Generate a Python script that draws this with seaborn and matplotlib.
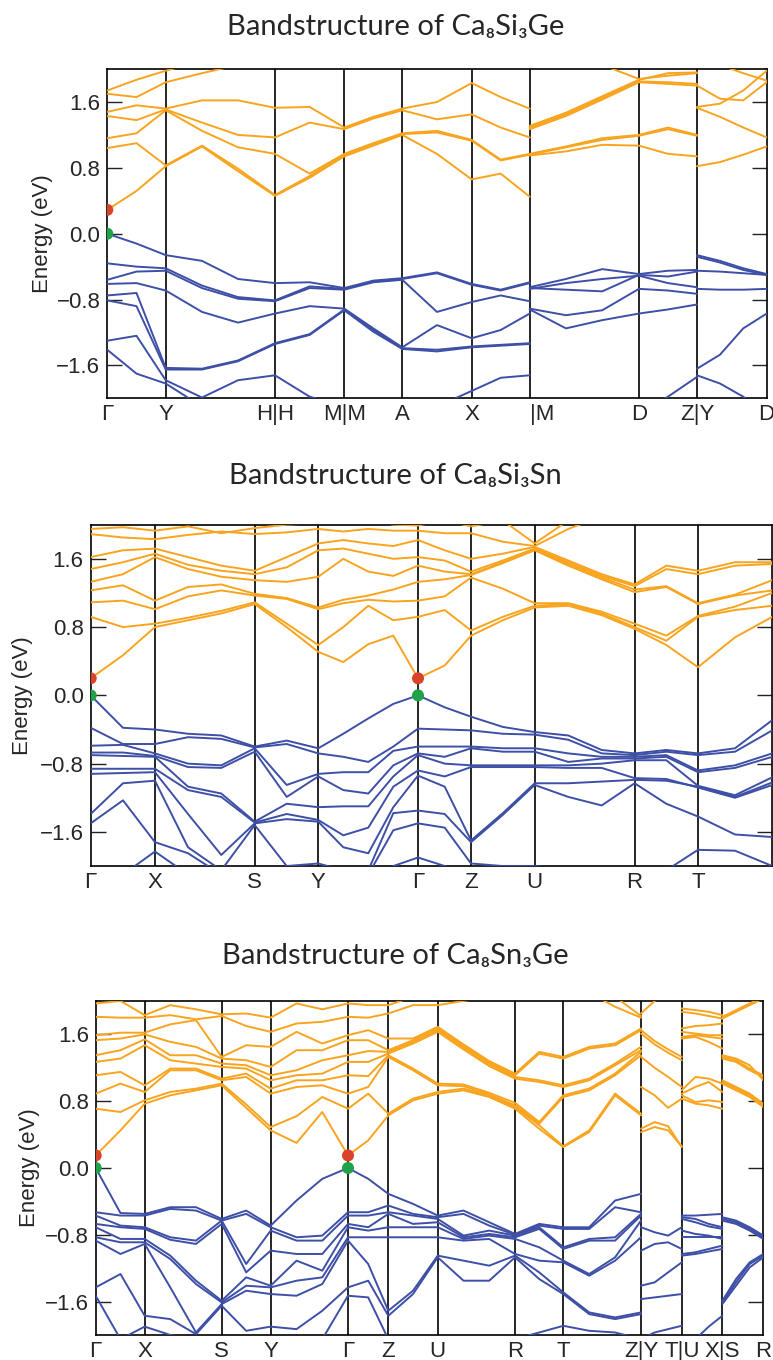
import numpy as np
import pandas as pd
import matplotlib
matplotlib.use("Agg")
import matplotlib.pyplot as plt
import seaborn as sns

sns.set_theme(style="white")
plt.rcParams['font.family'] = ['Liberation Sans', 'DejaVu Sans']

ORANGE = "#F8A41E"
BLUE = "#3D4FA6"
RED = "#D8432A"
GREEN = "#1FA24A"

y_ticks = [-1.6, -0.8, 0.0, 0.8, 1.6]
y_ticklabels = ["\u22121.6", "\u22120.8", "0.0", "0.8", "1.6"]

# ======================= Panel 1 : Ca8Si3Ge =======================
p1_title = "Bandstructure of Ca\u2088Si\u2083Ge"
p1_ticks = [0.0, 0.0886, 0.2543, 0.3594, 0.4474, 0.5526, 0.6406, 0.8063, 0.8943, 1.0]
p1_labels = ["\u0393", "Y", "H|H", "M|M", "A", "X", "|M", "D", "Z|Y", "D"]

# path A : G-Y-H-M-A-X-|M
p1_kA = [0.0, 0.0443, 0.0886, 0.1436, 0.1982, 0.2543, 0.3069, 0.3594,
         0.4034, 0.4474, 0.5000, 0.5526, 0.5966, 0.6406]
p1_cbA = [
    [0.29, 0.52, 0.82, 1.06, 0.76, 0.46, 0.68, 0.94, 1.07, 1.20, 0.97, 0.66, 0.73, 0.45],
    [1.04, 1.10, 0.83, 1.07, 0.79, 0.47, 0.70, 0.96, 1.09, 1.21, 1.23, 1.13, 0.89, 0.96],
    [1.16, 1.22, 1.50, 1.25, 1.05, 0.97, 0.73, 0.97, 1.10, 1.22, 1.25, 1.14, 0.90, 0.97],
    [1.43, 1.38, 1.51, 1.35, 1.20, 1.17, 1.35, 1.27, 1.40, 1.50, 1.39, 1.45, 1.29, 1.17],
    [1.48, 1.56, 1.52, 1.62, 1.62, 1.53, 1.54, 1.29, 1.42, 1.52, 1.60, 1.83, 1.66, 1.52],
    [1.70, 1.66, 1.84, 1.95, 2.05, 2.05, 2.10, 2.10, 2.10, 2.10, 2.10, 2.10, 2.10, 2.10],
    [1.74, 1.87, 1.98, 2.10, 2.20, 2.20, 2.20, 2.20, 2.20, 2.20, 2.20, 2.20, 2.20, 2.20],
]
# valence energies listed per k column
p1_vbA_cols = [
    [0.00, -0.36, -0.56, -0.61, -0.75, -0.81, -1.30, -1.41],
    [-0.12, -0.40, -0.46, -0.60, -0.72, -0.88, -1.24, -1.70],
    [-0.26, -0.42, -0.45, -0.69, -1.63, -1.65, -1.78, -1.82],
    [-0.33, -0.63, -0.66, -0.95, -1.64, -1.65, -1.99, -2.10],
    [-0.55, -0.77, -0.79, -1.08, -1.54, -1.55, -1.78, -2.10],
    [-0.60, -0.81, -0.82, -0.97, -1.33, -1.34, -1.72, -2.10],
    [-0.59, -0.64, -0.66, -0.88, -1.22, -1.23, -1.98, -2.10],
    [-0.66, -0.67, -0.68, -0.91, -0.92, -0.93, -2.10, -2.20],
    [-0.57, -0.58, -0.59, -1.15, -1.17, -1.19, -2.10, -2.20],
    [-0.54, -0.55, -0.56, -1.38, -1.39, -1.40, -2.10, -2.20],
    [-0.47, -0.48, -0.95, -1.11, -1.41, -1.43, -2.10, -2.20],
    [-0.61, -0.62, -0.83, -1.27, -1.37, -1.38, -1.91, -2.10],
    [-0.68, -0.69, -0.75, -1.17, -1.35, -1.36, -1.75, -2.10],
    [-0.59, -0.60, -0.82, -0.97, -1.33, -1.34, -1.72, -2.10],
]
# path B : |M-D-Z
p1_kB = [0.6406, 0.6956, 0.7507, 0.8063, 0.8503, 0.8943]
p1_cbB = [
    [0.95, 1.00, 1.08, 1.07, 0.97, 0.94],
    [0.96, 1.05, 1.14, 1.19, 1.27, 1.19],
    [0.97, 1.06, 1.16, 1.20, 1.29, 1.20],
    [1.27, 1.43, 1.63, 1.84, 1.82, 1.80],
    [1.29, 1.45, 1.65, 1.85, 1.84, 1.82],
    [1.31, 1.47, 1.67, 1.87, 1.95, 1.96],
    [2.20, 2.20, 2.05, 1.88, 1.92, 1.95],
]
p1_vbB = [
    [-0.65, -0.55, -0.43, -0.49, -0.45, -0.44],
    [-0.66, -0.68, -0.70, -0.50, -0.52, -0.46],
    [-0.67, -0.60, -0.55, -0.51, -0.60, -0.65],
    [-0.91, -0.99, -0.93, -0.67, -0.69, -0.73],
    [-0.92, -1.15, -1.05, -0.97, -0.92, -0.86],
    [-2.30, -2.30, -2.30, -2.20, -1.98, -1.74],
]
# path C : Y-D
p1_kC = [0.8943, 0.9292, 0.9645, 1.0]
p1_cbC = [
    [0.82, 0.87, 0.96, 1.06],
    [1.53, 1.42, 1.29, 1.17],
    [1.54, 1.58, 1.74, 1.98],
    [1.80, 1.64, 1.62, 1.84],
    [2.10, 2.05, 1.95, 1.86],
]
p1_vbC = [
    [-0.26, -0.33, -0.42, -0.49],
    [-0.28, -0.35, -0.44, -0.50],
    [-0.45, -0.46, -0.48, -0.50],
    [-0.67, -0.68, -0.68, -0.67],
    [-1.64, -1.47, -1.15, -0.97],
    [-1.72, -1.82, -1.98, -2.20],
]
p1_ext_k = [0.0]
p1_cbm = [0.29]
p1_vbm = [0.0]

# ======================= Panel 2 : Ca8Si3Sn =======================
p2_title = "Bandstructure of Ca\u2088Si\u2083Sn"
p2_ticks = [0.0, 0.0943, 0.2406, 0.3339, 0.4802, 0.558, 0.6514, 0.798, 0.891]
p2_labels = ["\u0393", "X", "S", "Y", "\u0393", "Z", "U", "R", "T"]
p2_k = [0.0, 0.0474, 0.0943, 0.1428, 0.1916, 0.2406, 0.2876, 0.3339, 0.3706, 0.4073,
        0.4440, 0.4802, 0.5194, 0.558, 0.6047, 0.6514, 0.7007, 0.7497, 0.798, 0.8445,
        0.891, 0.9453, 1.0]
p2_cb = [
    [0.20, 0.47, 0.80, 0.88, 0.96, 1.07, 0.80, 0.51, 0.39, 0.60, 0.70, 0.20, 0.35, 0.70, 0.88, 1.03, 1.05, 0.94, 0.78, 0.59, 0.33, 0.68, 0.92],
    [0.92, 0.80, 0.84, 0.91, 0.99, 1.09, 0.84, 0.59, 0.80, 1.05, 0.88, 0.92, 1.00, 0.76, 0.92, 1.05, 1.07, 0.96, 0.80, 0.64, 0.92, 1.00, 1.05],
    [1.09, 1.11, 1.01, 1.16, 1.23, 1.17, 1.13, 1.01, 1.08, 1.12, 1.10, 1.11, 1.16, 1.38, 1.25, 1.08, 1.08, 0.98, 0.84, 0.70, 0.93, 1.04, 1.20],
    [1.23, 1.29, 1.11, 1.27, 1.30, 1.19, 1.14, 1.03, 1.12, 1.17, 1.24, 1.33, 1.36, 1.41, 1.55, 1.70, 1.52, 1.36, 1.21, 1.27, 1.07, 1.17, 1.23],
    [1.33, 1.42, 1.62, 1.48, 1.39, 1.35, 1.33, 1.39, 1.60, 1.45, 1.40, 1.52, 1.45, 1.42, 1.56, 1.71, 1.54, 1.38, 1.24, 1.28, 1.08, 1.18, 1.35],
    [1.48, 1.56, 1.66, 1.53, 1.46, 1.42, 1.50, 1.70, 1.72, 1.66, 1.60, 1.62, 1.58, 1.45, 1.58, 1.72, 1.56, 1.40, 1.28, 1.48, 1.42, 1.52, 1.54],
    [1.62, 1.70, 1.72, 1.62, 1.52, 1.46, 1.62, 1.78, 1.82, 1.78, 1.75, 1.82, 1.70, 1.60, 1.66, 1.74, 1.58, 1.42, 1.30, 1.52, 1.46, 1.56, 1.56],
    [1.89, 1.85, 1.83, 1.88, 1.92, 1.89, 1.91, 1.95, 1.92, 1.95, 1.93, 1.93, 1.90, 1.90, 1.80, 1.75, 1.95, 2.10, 2.15, 2.15, 2.15, 2.15, 2.15],
    [1.95, 1.97, 1.93, 1.98, 1.90, 1.96, 2.00, 2.02, 2.05, 2.05, 2.00, 1.99, 2.05, 1.98, 2.05, 1.78, 2.05, 2.15, 2.20, 2.20, 2.20, 2.20, 2.20],
]
p2_vb_cols = [
    [0.00, -0.38, -0.59, -0.67, -0.70, -0.86, -0.92, -1.39, -1.50, -2.10],
    [-0.38, -0.57, -0.58, -0.67, -0.71, -0.86, -0.91, -1.03, -1.23, -2.10],
    [-0.40, -0.57, -0.68, -0.71, -0.72, -0.86, -0.90, -1.00, -1.72, -1.83],
    [-0.45, -0.49, -0.80, -0.84, -1.07, -1.11, -1.39, -1.78, -1.85, -2.10],
    [-0.47, -0.51, -0.82, -0.85, -1.15, -1.19, -1.87, -2.05, -2.10, -2.15],
    [-0.60, -0.61, -0.62, -0.66, -1.48, -1.49, -1.50, -1.52, -2.10, -2.15],
    [-0.53, -0.57, -1.05, -1.19, -1.27, -1.39, -1.45, -2.00, -2.10, -2.15],
    [-0.62, -0.68, -0.92, -0.95, -1.31, -1.46, -1.48, -1.97, -2.10, -2.15],
    [-0.45, -0.72, -0.90, -1.11, -1.30, -1.64, -1.78, -2.05, -2.10, -2.15],
    [-0.27, -0.78, -0.90, -1.15, -1.30, -1.55, -1.85, -2.05, -2.10, -2.15],
    [-0.10, -0.60, -0.65, -0.82, -0.95, -1.07, -1.31, -1.38, -1.58, -2.00],
    [0.00, -0.39, -0.60, -0.68, -0.70, -0.88, -0.94, -1.35, -1.50, -1.90],
    [-0.14, -0.40, -0.60, -0.72, -0.80, -0.95, -1.07, -1.39, -1.55, -2.00],
    [-0.25, -0.41, -0.60, -0.62, -0.82, -0.84, -1.70, -1.72, -1.97, -2.10],
    [-0.37, -0.45, -0.62, -0.66, -0.82, -0.84, -1.38, -1.40, -2.00, -2.10],
    [-0.43, -0.46, -0.62, -0.66, -0.82, -0.84, -1.03, -1.05, -2.00, -2.10],
    [-0.47, -0.52, -0.68, -0.78, -0.82, -0.85, -1.03, -1.19, -2.05, -2.10],
    [-0.64, -0.68, -0.72, -0.74, -0.80, -0.85, -1.01, -1.29, -2.05, -2.10],
    [-0.68, -0.70, -0.72, -0.74, -0.76, -0.97, -0.99, -1.03, -2.05, -2.10],
    [-0.64, -0.66, -0.70, -0.72, -0.76, -0.98, -1.00, -1.27, -2.05, -2.10],
    [-0.68, -0.70, -0.88, -0.90, -1.06, -1.08, -1.07, -1.42, -1.81, -2.10],
    [-0.62, -0.66, -0.82, -0.85, -1.17, -1.20, -1.19, -1.63, -1.82, -2.05],
    [-0.29, -0.41, -0.68, -0.72, -0.96, -1.05, -1.02, -1.66, -2.00, -2.10],
]
p2_ext_k = [0.0, 0.4802]
p2_cbm = [0.20, 0.20]
p2_vbm = [0.0, 0.0]

# ======================= Panel 3 : Ca8Sn3Ge =======================
p3_title = "Bandstructure of Ca\u2088Sn\u2083Ge"
p3_ticks = [0.0, 0.0734, 0.1887, 0.2621, 0.3779, 0.4383, 0.5123, 0.6281, 0.7004,
            0.8168, 0.8778, 0.9386, 1.0]
p3_labels = ["\u0393", "X", "S", "Y", "\u0393", "Z", "U", "R", "T", "Z|Y", "T|U", "X|S", "R"]
p3_k1 = [0.0, 0.0371, 0.0734, 0.1117, 0.1502, 0.1887, 0.2254, 0.2621, 0.3008, 0.3394,
         0.3779, 0.4082, 0.4383, 0.4753, 0.5123, 0.5509, 0.5894, 0.6281, 0.6643,
         0.7004, 0.7392, 0.7780, 0.8168]
p3_cb1_cols = [
    [0.15, 0.71, 0.89, 1.11, 1.27, 1.35, 1.53, 1.59, 1.81, 1.97],
    [0.45, 0.67, 1.01, 1.15, 1.31, 1.41, 1.55, 1.62, 1.80, 2.00],
    [0.77, 0.81, 0.91, 0.99, 1.47, 1.54, 1.60, 1.62, 1.80, 1.83],
    [0.87, 0.91, 1.17, 1.19, 1.29, 1.35, 1.51, 1.72, 1.83, 1.95],
    [0.93, 0.95, 1.17, 1.19, 1.25, 1.35, 1.45, 1.77, 1.78, 1.90],
    [0.99, 1.01, 1.05, 1.07, 1.21, 1.25, 1.31, 1.33, 1.82, 1.84],
    [0.72, 0.76, 1.09, 1.13, 1.19, 1.23, 1.29, 1.47, 1.70, 1.85],
    [0.45, 0.49, 0.89, 0.95, 1.05, 1.11, 1.21, 1.45, 1.63, 1.80],
    [0.30, 0.62, 0.97, 1.05, 1.11, 1.17, 1.41, 1.63, 1.73, 1.97],
    [0.67, 0.85, 0.99, 1.05, 1.13, 1.29, 1.41, 1.49, 1.75, 1.90],
    [0.15, 0.71, 0.89, 1.11, 1.27, 1.35, 1.53, 1.59, 1.81, 1.97],
    [0.33, 0.89, 0.97, 1.10, 1.27, 1.40, 1.53, 1.65, 1.80, 1.95],
    [0.63, 0.65, 1.33, 1.35, 1.37, 1.39, 1.41, 1.55, 1.85, 1.95],
    [0.81, 0.83, 1.17, 1.19, 1.49, 1.51, 1.53, 1.55, 1.95, 2.05],
    [0.89, 0.91, 0.99, 1.01, 1.63, 1.65, 1.67, 1.69, 1.95, 2.05],
    [0.93, 0.95, 0.98, 1.00, 1.42, 1.44, 1.46, 1.48, 2.00, 2.10],
    [0.85, 0.87, 0.88, 0.90, 1.22, 1.24, 1.26, 1.28, 2.05, 2.15],
    [0.71, 0.73, 0.75, 0.78, 1.07, 1.09, 1.11, 1.13, 2.10, 2.15],
    [0.47, 0.51, 0.53, 0.55, 1.03, 1.05, 1.37, 1.39, 2.10, 2.15],
    [0.25, 0.26, 0.85, 0.87, 0.97, 0.99, 1.31, 1.33, 2.10, 2.15],
    [0.43, 0.45, 0.93, 0.95, 1.05, 1.07, 1.43, 1.45, 2.10, 2.15],
    [0.87, 0.89, 1.11, 1.13, 1.23, 1.25, 1.47, 1.49, 1.93, 2.05],
    [0.63, 0.65, 1.35, 1.39, 1.41, 1.45, 1.65, 1.67, 1.80, 1.82],
]
p3_vb1_cols = [
    [0.00, -0.53, -0.57, -0.67, -0.71, -0.83, -0.87, -1.43, -1.53, -2.10],
    [-0.54, -0.57, -0.69, -0.71, -0.85, -0.89, -1.03, -1.27, -2.05, -2.10],
    [-0.55, -0.57, -0.71, -0.73, -0.85, -0.89, -0.91, -1.77, -1.90, -2.10],
    [-0.47, -0.49, -0.83, -0.86, -1.05, -1.09, -1.43, -1.81, -2.00, -2.10],
    [-0.47, -0.51, -0.87, -0.91, -1.35, -1.39, -1.97, -1.99, -2.05, -2.10],
    [-0.61, -0.63, -0.63, -0.67, -1.59, -1.61, -1.63, -1.65, -2.05, -2.10],
    [-0.51, -0.55, -1.15, -1.25, -1.31, -1.41, -1.47, -1.95, -2.05, -2.10],
    [-0.69, -0.71, -0.75, -0.99, -1.41, -1.43, -1.51, -1.90, -2.05, -2.10],
    [-0.39, -0.83, -0.87, -1.03, -1.11, -1.35, -1.53, -1.93, -2.05, -2.10],
    [-0.13, -0.81, -0.87, -1.03, -1.23, -1.31, -1.39, -1.71, -2.05, -2.10],
    [0.00, -0.53, -0.57, -0.67, -0.71, -0.83, -0.87, -1.43, -1.53, -2.10],
    [-0.13, -0.53, -0.57, -0.71, -0.75, -0.83, -1.15, -1.35, -1.55, -2.10],
    [-0.31, -0.45, -0.53, -0.55, -0.71, -0.83, -1.71, -1.77, -2.05, -2.10],
    [-0.43, -0.55, -0.57, -0.67, -0.71, -0.83, -1.47, -1.51, -2.05, -2.10],
    [-0.57, -0.59, -0.61, -0.65, -0.71, -0.83, -1.05, -1.07, -2.05, -2.10],
    [-0.51, -0.55, -0.81, -0.83, -0.85, -0.87, -1.11, -1.35, -2.05, -2.10],
    [-0.65, -0.69, -0.75, -0.79, -0.81, -0.85, -1.17, -1.35, -2.05, -2.10],
    [-0.79, -0.80, -0.81, -0.83, -0.85, -1.03, -1.05, -1.07, -2.05, -2.10],
    [-0.67, -0.69, -0.71, -0.73, -0.95, -1.11, -1.25, -1.33, -1.97, -2.10],
    [-0.71, -0.73, -0.95, -0.97, -1.11, -1.13, -1.49, -1.51, -1.89, -2.10],
    [-0.71, -0.73, -0.85, -0.87, -1.27, -1.29, -1.73, -1.75, -1.95, -2.10],
    [-0.39, -0.47, -0.83, -0.87, -1.07, -1.11, -1.79, -1.81, -1.97, -2.10],
    [-0.31, -0.53, -0.55, -0.57, -0.63, -0.83, -1.73, -1.75, -2.05, -2.10],
]
p3_k2 = [0.8168, 0.8372, 0.8574, 0.8778]
p3_cb2 = [
    [0.43, 0.49, 0.45, 0.26],
    [0.47, 0.55, 0.50, 0.25],
    [0.97, 0.87, 0.72, 0.83],
    [1.33, 1.20, 1.09, 0.97],
    [1.65, 1.52, 1.42, 1.33],
    [1.61, 1.48, 1.38, 1.29],
    [1.85, 2.00, 2.10, 2.15],
]
p3_vb2 = [
    [-0.71, -0.77, -0.81, -0.71],
    [-0.99, -0.91, -0.89, -0.97],
    [-1.41, -1.37, -1.25, -1.13],
    [-1.57, -1.55, -1.53, -1.51],
    [-2.05, -1.97, -1.93, -1.89],
]
p3_k3 = [0.8778, 0.8982, 0.9182, 0.9386]
p3_cb3 = [
    [0.83, 0.77, 0.75, 0.71],
    [0.87, 0.79, 0.81, 0.79],
    [0.89, 0.97, 1.03, 0.91],
    [0.93, 1.09, 1.07, 1.01],
    [1.55, 1.57, 1.51, 1.43],
    [1.57, 1.59, 1.57, 1.55],
    [1.63, 1.61, 1.59, 1.59],
    [1.67, 1.70, 1.71, 1.73],
    [1.87, 1.85, 1.82, 1.79],
    [1.91, 1.89, 1.87, 1.83],
]
p3_vb3 = [
    [-0.57, -0.57, -0.56, -0.55],
    [-0.59, -0.61, -0.67, -0.71],
    [-0.61, -0.65, -0.70, -0.73],
    [-0.75, -0.79, -0.81, -0.85],
    [-0.83, -0.83, -0.83, -0.83],
    [-1.03, -1.01, -0.97, -0.93],
    [-1.05, -1.03, -1.00, -0.97],
    [-2.20, -2.05, -1.90, -1.77],
]
p3_k4 = [0.9386, 0.9591, 0.9796, 1.0]
p3_cb4 = [
    [1.01, 0.93, 0.85, 0.73],
    [1.03, 0.95, 0.87, 0.75],
    [1.05, 0.97, 0.89, 0.77],
    [1.31, 1.27, 1.17, 1.09],
    [1.33, 1.29, 1.19, 1.11],
    [1.35, 1.31, 1.23, 1.05],
    [1.79, 1.87, 1.95, 2.03],
    [1.81, 1.89, 1.97, 2.05],
]
p3_vb4 = [
    [-0.59, -0.63, -0.71, -0.81],
    [-0.61, -0.65, -0.73, -0.83],
    [-0.63, -0.67, -0.75, -0.85],
    [-1.63, -1.41, -1.19, -1.07],
    [-1.61, -1.37, -1.15, -1.05],
    [-1.59, -1.33, -1.13, -1.03],
]
p3_ext_k = [0.0, 0.3779]
p3_cbm = [0.15, 0.15]
p3_vbm = [0.0, 0.0]


def cols_to_bands(cols):
    return np.array(cols).T.tolist()


def bands_frame(k, bands, tag):
    rows = []
    for i, b in enumerate(bands):
        for kk, e in zip(k, b):
            rows.append((kk, e, f"{tag}{i}"))
    return pd.DataFrame(rows, columns=["k", "E", "band"])


def draw_bands(ax, paths, color):
    frames = [bands_frame(k, b, f"p{j}_") for j, (k, b) in enumerate(paths)]
    df = pd.concat(frames, ignore_index=True)
    sns.lineplot(data=df, x="k", y="E", units="band", estimator=None, sort=False,
                 color=color, lw=1.4, ax=ax, legend=False, zorder=3)


def style_axes(ax, ticks, labels, label_x):
    ax.set_xlim(0, 1)
    ax.set_ylim(-2, 2)
    for t in ticks[1:]:
        if t < 1.0:
            ax.axvline(t, color="black", lw=1.2, zorder=2)
    ax.set_xticks(ticks)
    ax.set_xticklabels(labels)
    ax.set_yticks(y_ticks)
    ax.set_yticklabels(y_ticklabels)
    ax.tick_params(axis="y", direction="in", length=11, width=1.0, color="#222222",
                   left=True, right=True, labelsize=16, pad=5)
    ax.tick_params(axis="x", length=0, labelsize=16, pad=4)
    for lbl in ax.get_xticklabels():
        if lbl.get_text() == "|M":
            lbl.set_ha("left")
    for s in ax.spines.values():
        s.set_color("black")
        s.set_linewidth(1.2)
    ax.set_xlabel("")
    ax.set_ylabel("Energy (eV)", fontsize=16)
    ax.yaxis.set_label_coords(label_x, 0.5)


def draw_extrema(ax, ks, cbm, vbm):
    sns.scatterplot(x=ks, y=cbm, color=RED, s=75, edgecolor="none", ax=ax, zorder=5, legend=False)
    sns.scatterplot(x=ks, y=vbm, color=GREEN, s=75, edgecolor="none", ax=ax, zorder=5, legend=False)


fig = plt.figure(figsize=(7.73, 13.6), dpi=100)
ax1 = fig.add_axes([0.1388, 0.7071, 0.8530, 0.2421])
ax2 = fig.add_axes([0.1173, 0.3632, 0.8818, 0.2510])
ax3 = fig.add_axes([0.1238, 0.0184, 0.8637, 0.2456])

# panel 1
draw_bands(ax1, [(p1_kA, p1_cbA), (p1_kB, p1_cbB), (p1_kC, p1_cbC)], ORANGE)
draw_bands(ax1, [(p1_kA, cols_to_bands(p1_vbA_cols)), (p1_kB, p1_vbB), (p1_kC, p1_vbC)], BLUE)
draw_extrema(ax1, p1_ext_k, p1_cbm, p1_vbm)
style_axes(ax1, p1_ticks, p1_labels, -0.083)

# panel 2
draw_bands(ax2, [(p2_k, p2_cb)], ORANGE)
draw_bands(ax2, [(p2_k, cols_to_bands(p2_vb_cols))], BLUE)
draw_extrema(ax2, p2_ext_k, p2_cbm, p2_vbm)
style_axes(ax2, p2_ticks, p2_labels, -0.085)

# panel 3
draw_bands(ax3, [(p3_k1, cols_to_bands(p3_cb1_cols)), (p3_k2, p3_cb2), (p3_k3, p3_cb3), (p3_k4, p3_cb4)], ORANGE)
draw_bands(ax3, [(p3_k1, cols_to_bands(p3_vb1_cols)), (p3_k2, p3_vb2), (p3_k3, p3_vb3), (p3_k4, p3_vb4)], BLUE)
draw_extrema(ax3, p3_ext_k, p3_cbm, p3_vbm)
style_axes(ax3, p3_ticks, p3_labels, -0.083)

title_font = ["Lato", "DejaVu Sans"]
fig.text(0.512, 0.980, p1_title, ha="center", va="center", fontsize=21, family=title_font)
fig.text(0.512, 0.650, p2_title, ha="center", va="center", fontsize=21, family=title_font)
fig.text(0.512, 0.297, p3_title, ha="center", va="center", fontsize=21, family=title_font)

fig.savefig("out.png", dpi=100)
